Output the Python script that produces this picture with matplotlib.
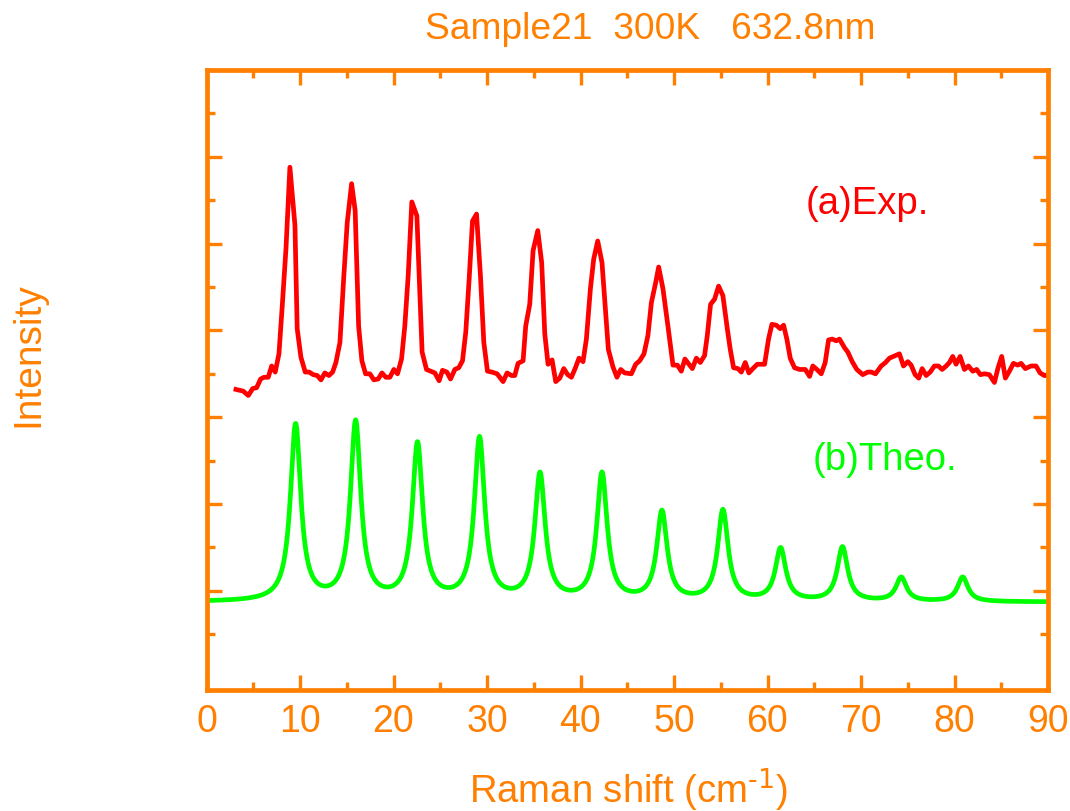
import numpy as np
import matplotlib
matplotlib.use("Agg")
import matplotlib.pyplot as plt
from matplotlib.ticker import FixedLocator, MultipleLocator

plt.rcParams['font.family'] = ['Liberation Sans', 'DejaVu Sans']
plt.rcParams['mathtext.default'] = 'regular'

ORANGE = '#FF8000'

# Measured spectrum (Raman shift in cm^-1, intensity in a.u.)
exp_shift = [
    3.15, 3.93, 4.47, 4.94, 5.36, 5.79, 6.15, 6.60, 6.97, 7.35,
    7.75, 8.10, 8.50, 8.92, 9.46, 9.70, 10.10, 10.56, 10.99, 11.41,
    11.84, 12.24, 12.66, 13.09, 13.49, 13.84, 14.27, 14.69, 15.05, 15.52,
    15.90, 16.27, 16.62, 17.01, 17.47, 17.90, 18.36, 18.76, 19.18, 19.61,
    20.04, 20.43, 20.86, 21.21, 21.57, 21.96, 22.50, 23.06, 23.53, 23.99,
    24.42, 24.88, 25.24, 25.70, 26.10, 26.56, 26.98, 27.38, 27.73, 28.09,
    28.45, 28.88, 29.30, 29.66, 30.05, 30.51, 31.08, 31.72, 32.15, 32.62,
    32.97, 33.32, 33.86, 34.14, 34.57, 34.93, 35.43, 35.85, 36.18, 36.53,
    36.96, 37.35, 37.78, 38.21, 38.63, 39.03, 39.46, 39.84, 40.27, 40.63,
    41.06, 41.41, 41.84, 42.30, 42.69, 42.98, 43.47, 43.90, 44.30, 44.73,
    45.44, 45.90, 46.33, 46.79, 47.21, 47.58, 48.04, 48.36, 48.82, 49.35,
    49.89, 50.36, 50.78, 51.17, 51.60, 51.96, 52.39, 52.81, 53.27, 53.56,
    53.91, 54.34, 54.77, 55.23, 55.70, 56.02, 56.37, 56.83, 57.20, 57.62,
    58.01, 58.44, 58.91, 59.69, 60.11, 60.47, 60.94, 61.36, 61.72, 62.07,
    62.43, 62.89, 63.43, 64.04, 64.50, 64.85, 65.28, 65.75, 66.17, 66.53,
    66.92, 67.35, 67.70, 68.24, 68.59, 69.06, 69.55, 70.19, 70.73, 71.09,
    71.55, 72.16, 72.62, 73.04, 73.47, 74.11, 74.54, 75.00, 75.36, 75.79,
    76.18, 76.54, 76.97, 77.40, 77.85, 78.28, 78.68, 79.11, 79.46, 79.81,
    80.17, 80.60, 81.06, 81.49, 81.95, 82.37, 82.77, 83.20, 83.73, 84.27,
    84.66, 85.05, 85.44, 85.87, 86.30, 86.76, 87.12, 87.58, 88.19, 88.72,
    89.15, 89.61, 89.93,
]
exp_intensity = [
    332, 330, 325, 333, 334, 344, 346, 346, 359, 352,
    373, 428, 494, 588, 521, 402, 369, 352, 352, 349,
    348, 343, 351, 348, 352, 363, 386, 463, 524, 569,
    538, 405, 365, 350, 350, 343, 344, 351, 346, 346,
    355, 350, 367, 405, 463, 548, 532, 375, 355, 353,
    351, 342, 354, 352, 344, 355, 357, 365, 398, 459,
    526, 534, 463, 386, 353, 352, 350, 341, 351, 348,
    348, 362, 365, 405, 430, 492, 515, 478, 396, 361,
    366, 341, 345, 356, 349, 346, 357, 368, 364, 390,
    448, 482, 503, 478, 421, 378, 358, 346, 355, 351,
    350, 361, 365, 373, 394, 432, 455, 473, 448, 405,
    360, 360, 353, 367, 361, 356, 368, 363, 371, 394,
    430, 436, 451, 440, 402, 378, 357, 356, 352, 363,
    351, 356, 361, 361, 390, 407, 406, 402, 406, 390,
    368, 357, 355, 355, 347, 359, 355, 350, 363, 389,
    390, 388, 390, 380, 375, 364, 355, 349, 352, 352,
    350, 359, 363, 368, 370, 373, 359, 364, 360, 349,
    345, 356, 348, 352, 359, 359, 355, 359, 363, 370,
    361, 370, 355, 359, 353, 355, 349, 350, 349, 340,
    357, 370, 345, 353, 362, 360, 362, 356, 359, 359,
    351, 348, 348,
]

# Calculated spectrum: Lorentzian modes on a flat background
theo_centers = [9.53, 15.95, 22.57, 29.20, 35.67, 42.30,
                48.71, 55.23, 61.40, 68.02, 74.30, 80.88]
theo_peak_heights = [293, 297, 272, 278, 237, 237,
                     193, 194, 150, 151, 116, 116]
theo_background = 87.0
theo_hwhm = 0.67


def lorentz(x, x0, g):
    return g ** 2 / ((x - x0) ** 2 + g ** 2)


centers = np.array(theo_centers)
# mode amplitudes chosen so that the summed curve reaches the listed peak heights
overlap = lorentz(centers[:, None], centers[None, :], theo_hwhm)
amps = np.linalg.solve(overlap, np.array(theo_peak_heights) - theo_background)
theo_shift = np.linspace(0, 90, 1801)
theo_intensity = theo_background + (amps[None, :] *
                                    lorentz(theo_shift[:, None], centers[None, :], theo_hwhm)).sum(axis=1)

fig = plt.figure(figsize=(10.70, 8.12), dpi=100)
ax = fig.add_axes([206.5 / 1070, 1 - 691 / 812, (1048 - 206.5) / 1070, (691 - 71) / 812])

ax.plot(exp_shift, exp_intensity, color='#FF0000', lw=3.4, solid_joinstyle='round')
ax.plot(theo_shift, theo_intensity, color='#00FF00', lw=3.4)

ax.set_xlim(0, 90)
ax.set_ylim(-14.3, 700)

ax.xaxis.set_major_locator(MultipleLocator(10))
ax.xaxis.set_minor_locator(MultipleLocator(5))
ax.yaxis.set_major_locator(FixedLocator([100, 200, 300, 400, 500, 600]))
ax.yaxis.set_minor_locator(FixedLocator([50, 150, 250, 350, 450, 550, 650]))
ax.tick_params(which='both', direction='in', top=True, right=True,
               color=ORANGE, width=2.4, labelcolor=ORANGE, labelsize=27)
ax.tick_params(which='major', length=11, pad=9)
ax.tick_params(which='minor', length=6)
ax.tick_params(axis='y', labelleft=False)
for sp in ax.spines.values():
    sp.set_color(ORANGE)
    sp.set_linewidth(3.4)

ax.text(64.07, 535, '(a)Exp.', color='#FF0000', fontsize=27.5, ha='left', va='baseline')
ax.text(64.8, 240, '(b)Theo.', color='#00FF00', fontsize=27.5, ha='left', va='baseline')

fig.text(650 / 1070, 1 - 39.3 / 812, 'Sample21  300K   632.8nm', color=ORANGE,
         fontsize=26.7, ha='center', va='baseline')
fig.text(628 / 1070, 1 - 803 / 812, r'Raman shift (cm$^{\text{-1}}$)', color=ORANGE,
         fontsize=27.5, ha='center', va='baseline')
fig.text(28 / 1070, 1 - 355 / 812, 'Intensity', color=ORANGE, fontsize=28,
         rotation=90, ha='center', va='center')

fig.savefig('out.png', dpi=100)
